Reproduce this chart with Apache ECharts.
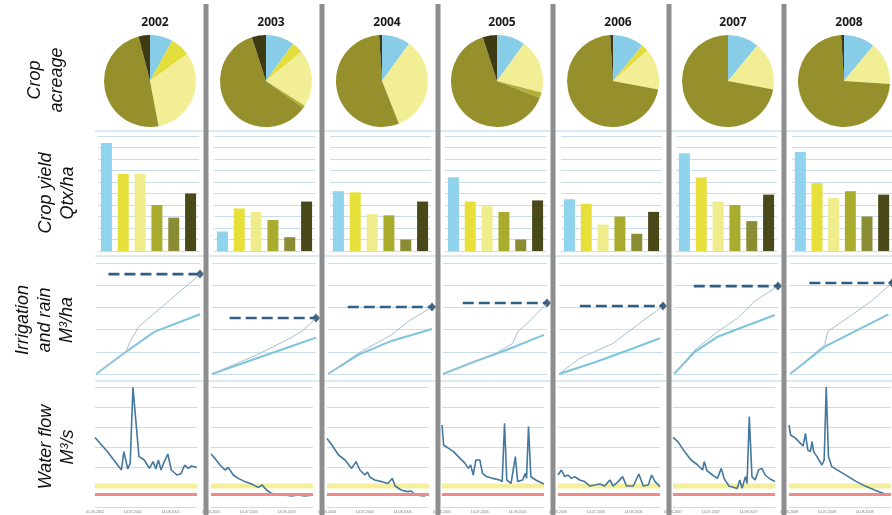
<!DOCTYPE html>
<html><head><meta charset="utf-8">
<script src="https://cdn.jsdelivr.net/npm/echarts@6/dist/echarts.min.js"></script>
<style>html,body{margin:0;padding:0;background:#fff}#c{width:892px;height:515px}</style>
</head><body><div id="c"></div>
<script>
// ---------------- data ----------------
const years = ['2002', '2003', '2004', '2005', '2006', '2007', '2008'];
const crops = ['Crop A', 'Crop B', 'Crop C', 'Crop D', 'Crop E', 'Crop F'];
// crop acreage shares (%), per year, in crop order
const acreage = [
  [8, 7, 32, 0, 49, 4],
  [10, 4, 20, 1, 60, 5],
  [10, 0, 34, 0, 55, 1],
  [10, 0, 19, 2, 64, 5],
  [11, 2.5, 14.5, 0, 71, 1],
  [11, 0, 17, 0, 72, 0],
  [11, 0, 15, 0, 73, 1]
];
// crop yield Qtx/ha, per year
const yields = [
  [94, 67, 67, 40, 29, 50],
  [17, 37, 34, 27, 12, 43],
  [52, 51, 32, 31, 10, 43],
  [64, 43, 39, 34, 10, 44],
  [45, 41, 23, 30, 15, 34],
  [85, 64, 43, 40, 26, 49],
  [86, 59, 46, 52, 30, 49]
];
// irrigation + rain, cumulative M3/ha : [season %, value]
const irrigThin = [
  [[0, 0], [29, 1000], [32, 1380], [41, 2130], [56, 2730], [73, 3410], [90, 4080], [100, 4500]],
  [[0, 0], [43, 860], [75, 1610], [87, 1940], [100, 2520]],
  [[0, 0], [29, 930], [61, 1760], [77, 2360], [100, 3020]],
  [[0, 0], [30, 560], [52, 960], [67, 1380], [72, 1910], [83, 2360], [100, 3200]],
  [[0, 0], [20, 710], [52, 1380], [73, 2130], [100, 3060]],
  [[0, 0], [20, 1080], [42, 1910], [61, 2510], [77, 3260], [100, 3960]],
  [[0, 0], [34, 1310], [37, 1910], [56, 2510], [79, 3260], [100, 4100]]
];
const irrigThick = [
  [[0, 0], [29, 1000], [56, 1900], [100, 2690]],
  [[0, 0], [43, 710], [75, 1230], [100, 1640]],
  [[0, 0], [29, 860], [61, 1490], [100, 2030]],
  [[0, 0], [30, 550], [61, 1080], [97, 1760]],
  [[0, 0], [36, 550], [67, 1080], [97, 1610]],
  [[0, 0], [20, 1000], [42, 1680], [67, 2130], [97, 2660]],
  [[0, 0], [34, 1230], [63, 1910], [96.5, 2690]]
];
const irrigTarget = [4500, 2520, 3020, 3200, 3060, 3960, 4100];
const irrigTargetStart = [12, 17, 19, 19, 20, 19, 19];
// water flow M3/s : [season %, value]
const flow = [
  [[0,3.48],[12.1,2.77],[25.9,1.85],[28.3,2.77],[32.1,1.9],[34.5,2.18],[37.2,5.98],[43.1,2.52],[48.3,2.35],[53.4,1.93],[56.9,2.27],[59.7,1.9],[62.1,2.35],[64.8,1.85],[67.2,2.18],[71.4,2.65],[74.8,1.85],[80.3,1.6],[84.5,1.68],[87.9,2.1],[91.4,1.93],[94.8,2.05],[100,1.98]],
  [[0,2.65],[3.9,2.43],[8.8,2.1],[13.7,1.85],[16.9,1.98],[21.8,1.6],[26.7,1.43],[33.2,1.27],[39.7,1.15],[46.3,0.98],[50.2,1.1],[54.4,0.85],[59.3,0.68],[65.8,0.6],[72.3,0.6],[78.8,0.55],[85.3,0.6],[91.9,0.55],[100,0.6]],
  [[0,3.43],[4.8,3.1],[11.3,2.6],[17.7,2.35],[24.2,1.93],[28.4,2.27],[32.3,1.85],[37.1,1.6],[39.7,1.75],[41.9,1.5],[46.8,1.35],[53.2,1.27],[59.7,1.18],[63.9,1.43],[66.8,1.05],[72.6,0.85],[79,0.77],[82.3,0.8],[87.1,0.6],[95.2,0.55],[100,0.68]],
  [[0,4.1],[1.6,3.1],[6.5,2.93],[11.3,2.77],[12.9,2.85],[17.7,2.43],[22.6,2.18],[25.8,1.93],[28.1,2.1],[30.6,1.6],[33.2,2.35],[37.1,2.35],[39.7,1.68],[43.5,1.52],[50,1.43],[56.5,1.35],[59,1.27],[61.3,4.18],[63.5,1.35],[67.7,1.18],[71.9,2.52],[74.2,1.27],[79,1.35],[81.6,1.68],[82.9,1.43],[84.8,4.02],[87.1,1.52],[91.9,1.35],[100,1.15]],
  [[0,1.6],[3.3,1.85],[6.6,1.52],[9.8,1.6],[13.1,1.43],[16.4,1.52],[21.3,1.35],[26.2,1.27],[31.1,1.05],[36.1,1.1],[41,1.15],[45.9,1.05],[50.8,1.35],[54.1,1.05],[59,1.27],[63.3,1.52],[67.2,1.05],[73.8,1.05],[79.3,1.65],[83.6,1.05],[88.5,1.1],[91.8,1.6],[95.1,1.27],[100,1.02]],
  [[0,3.48],[4.8,3.27],[11.3,2.77],[17.7,2.35],[24.2,2.1],[29,1.85],[30.6,2.27],[33.2,1.82],[38.7,1.6],[43.5,1.43],[47.4,1.93],[50,1.43],[54.8,1.05],[59.7,0.98],[62.9,0.93],[65.5,1.35],[67.7,0.93],[71,1.52],[72.6,1.18],[74.8,4.52],[77.4,1.52],[80.6,1.35],[83.9,1.85],[87.1,1.93],[90.3,1.6],[95.2,1.4],[100,1.27]],
  [[0,4.1],[1.6,3.6],[6.5,3.43],[11.3,3.18],[13.9,3.05],[16.1,3.68],[18.4,2.85],[21,2.77],[22.6,3.27],[24.2,2.77],[27.4,2.52],[32.3,2.1],[34.5,2.35],[36.5,6.0],[38.7,2.52],[41.9,2.02],[50,1.77],[58.1,1.52],[66.1,1.27],[75.8,1.02],[83.9,0.85],[90.3,0.72],[97.1,0.6]]
];
const flowAlertBand = [0.93, 1.18];
const flowCritical = 0.62;
const flowTickPos = [0, 37, 74];
const flowTickLabels = ['01.06.', '14.07.', '14.08.'];
const rowLabels = ['Crop\nacreage', 'Crop yield\nQtx/ha', 'Irrigation\nand rain\nM³/ha', 'Water flow\nM³/s'];

// ---------------- style / layout ----------------
const colCenters = [150, 266, 382, 497, 613, 728, 844];
const pieColors = ['#88cde8', '#e4de3c', '#f1ee96', '#b3b03a', '#958f2c', '#3e3b13'];
const barColors = ['#90d3ec', '#e7e03a', '#efec8c', '#aaac2e', '#8b8d34', '#4a4919'];
const gridLineColor = '#c9deec';

const grid = [], xAxis = [], yAxis = [], series = [], title = [];
function addGrid(g, xa, ya) {
  const gi = grid.length;
  grid.push(g);
  xa.gridIndex = gi; ya.gridIndex = gi;
  xAxis.push(xa); yAxis.push(ya);
  return gi;
}
const hidden = {axisLine: {show: false}, axisTick: {show: false}, axisLabel: {show: false}};

years.forEach((yr, i) => {
  const c = colCenters[i];
  title.push({text: yr, left: c, top: 12, textAlign: 'center',
    textStyle: {fontSize: 12, fontWeight: 'bold', fontFamily: 'Open Sans', color: '#1b1b1b'}});

  // pie
  series.push({type: 'pie', center: [c, 81], radius: 46, startAngle: 90, clockwise: true,
    silent: true, label: {show: false}, labelLine: {show: false},
    itemStyle: {borderWidth: 0},
    data: crops.map((n, k) => ({name: n, value: acreage[i][k], itemStyle: {color: pieColors[k]}}))});

  // bars
  let gi = addGrid({left: c - 52, top: 136, width: 101, height: 115},
    Object.assign({type: 'category', data: crops}, hidden),
    Object.assign({type: 'value', min: 0, max: 100, interval: 10,
      splitLine: {lineStyle: {color: gridLineColor, width: 1}}}, hidden));
  series.push({type: 'bar', xAxisIndex: gi, yAxisIndex: gi, barWidth: 11, silent: true,
    data: yields[i].map((v, k) => ({value: v, itemStyle: {color: barColors[k]}}))});

  // irrigation
  gi = addGrid({left: c - 54, top: 263, width: 104, height: 111},
    Object.assign({type: 'value', min: 0, max: 100, splitLine: {show: false}}, hidden),
    Object.assign({type: 'value', min: 0, max: 5000, interval: 1000,
      splitLine: {lineStyle: {color: gridLineColor, width: 1}}}, hidden));
  series.push({type: 'line', xAxisIndex: gi, yAxisIndex: gi, data: irrigThick[i], symbol: 'none',
    lineStyle: {color: '#7cc5dc', width: 2}, silent: true});
  series.push({type: 'line', xAxisIndex: gi, yAxisIndex: gi, data: irrigThin[i], symbol: 'none',
    lineStyle: {color: '#a9bfd1', width: 1}, silent: true});
  series.push({type: 'line', xAxisIndex: gi, yAxisIndex: gi, symbol: 'none', silent: true,
    data: [[irrigTargetStart[i], irrigTarget[i]], [100, irrigTarget[i]]],
    lineStyle: {color: '#2f5f88', width: 2.6, type: [11, 5]}});
  series.push({type: 'scatter', xAxisIndex: gi, yAxisIndex: gi, symbol: 'diamond', symbolSize: [8, 9],
    data: [[100, irrigTarget[i]]], itemStyle: {color: '#1c3d5e'}, silent: true});

  // water flow
  gi = addGrid({left: c - 55, top: 387, width: 102, height: 120},
    {type: 'value', min: 0, max: 100, interval: 37, splitLine: {show: false},
      axisLine: {show: false}, axisTick: {show: false},
      axisLabel: {show: true, fontSize: 3.6, color: '#7a7a7a', margin: 3, showMaxLabel: false,
        formatter: v => { const k = flowTickPos.indexOf(v); return k < 0 ? '' : flowTickLabels[k] + yr; }}},
    Object.assign({type: 'value', min: 0, max: 6, interval: 1,
      splitLine: {lineStyle: {color: gridLineColor, width: 1}}}, hidden));
  series.push({type: 'line', xAxisIndex: gi, yAxisIndex: gi, data: flow[i], symbol: 'none', silent: true,
    lineStyle: {color: '#44789f', width: 1.6},
    markArea: {silent: true, itemStyle: {color: '#f3ef9c'},
      data: [[{yAxis: flowAlertBand[0]}, {yAxis: flowAlertBand[1]}]]},
    markLine: {silent: true, symbol: 'none', label: {show: false},
      lineStyle: {color: '#f08a86', width: 3, type: 'solid'},
      data: [{yAxis: flowCritical}]}});
});

const graphic = [];
[131, 256, 381].forEach(y => graphic.push({type: 'line', silent: true, z: 50,
  shape: {x1: 95, y1: y, x2: 892, y2: y}, style: {stroke: '#bfd2e0', lineWidth: 1}}));
colCenters.slice(0, 6).forEach(c => graphic.push({type: 'rect', silent: true, z: 100,
  shape: {x: c + 53.5, y: 4, width: 5, height: 515}, style: {fill: '#8e8e8e'}}));
const labelPos = [[46, 80], [57, 193], [45, 320], [57, 447]];
rowLabels.forEach((t, k) => graphic.push({type: 'text', silent: true, z: 100,
  x: labelPos[k][0], y: labelPos[k][1], rotation: Math.PI / 2,
  style: {text: t, x: 0, y: 0, fill: '#111', fontSize: 18, fontStyle: 'italic',
    fontFamily: 'Liberation Sans', lineHeight: 22,
    align: 'center', verticalAlign: 'middle', textAlign: 'center', textVerticalAlign: 'middle'}}));

const chart = echarts.init(document.getElementById('c'), null, {renderer: 'canvas'});
chart.setOption({animation: false, backgroundColor: '#fff', title, grid, xAxis, yAxis, series, graphic});
</script></body></html>
